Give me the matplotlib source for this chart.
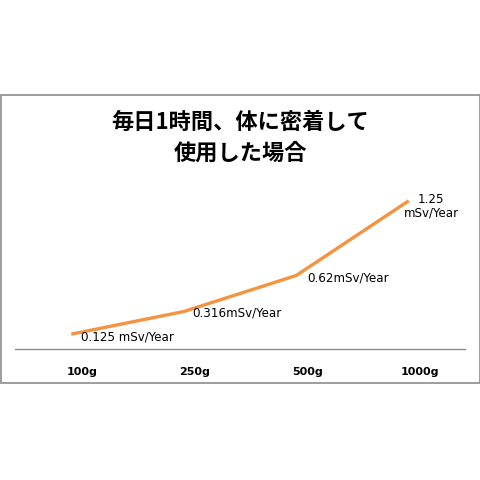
import matplotlib
matplotlib.use("Agg")
import matplotlib.pyplot as plt
import matplotlib.transforms as mtransforms
from matplotlib.patches import Rectangle

plt.rcParams['font.family'] = ['Noto Sans CJK JP', 'DejaVu Sans']

# data
weights = ["100g", "250g", "500g", "1000g"]
dose = [0.125, 0.316, 0.62, 1.25]
point_labels = ["0.125 mSv/Year", "0.316mSv/Year", "0.62mSv/Year", "1.25\nmSv/Year"]
title = "毎日1時間、体に密着して\n使用した場合"

W = 481
fig = plt.figure(figsize=(W / 100, W / 100), dpi=100)

# outer chart border
fig.patches.append(Rectangle((1 / W, (W - 384) / W), 479 / W, 288 / W,
                             transform=fig.transFigure, fill=False,
                             edgecolor="#8c8c8c", linewidth=1.2))

ax = fig.add_axes([15 / W, (W - 350) / W, 450 / W, 166 / W])
x = list(range(len(weights)))
ax.plot(x, dose, color="#F59340", linewidth=2.4, solid_capstyle="butt")

ax.set_xlim(-0.5, len(weights) - 0.5)
ax.set_ylim(0, 1.4)
ax.set_yticks([])
ax.set_xticks(x)
ax.set_xticklabels(weights, fontsize=8, fontweight="bold", family=['DejaVu Sans'])
ax.tick_params(axis="x", length=0, pad=12)
offset = mtransforms.ScaledTranslation(8 / 72, 0, fig.dpi_scale_trans)
for lbl in ax.get_xticklabels():
    lbl.set_transform(lbl.get_transform() + offset)

for s in ["top", "left", "right"]:
    ax.spines[s].set_visible(False)
ax.spines["bottom"].set_color("#8c8c8c")
ax.spines["bottom"].set_linewidth(1)

# value labels next to each point
offs = [(7, -1), (6, 0), (8, -1), (16, -3)]
for i, (v, txt) in enumerate(zip(dose, point_labels)):
    ha = "center" if "\n" in txt else "left"
    ax.annotate(txt, (i, v), xytext=offs[i], textcoords="offset points",
                ha=ha, va="center", fontsize=8.6, family=['DejaVu Sans'],
                linespacing=1.05, annotation_clip=False)

fig.text(0.5, (W - 138) / W, title, ha="center", va="center",
         fontsize=16, fontweight="bold", linespacing=1.4)

fig.savefig("out.png", dpi=100, facecolor="white")
